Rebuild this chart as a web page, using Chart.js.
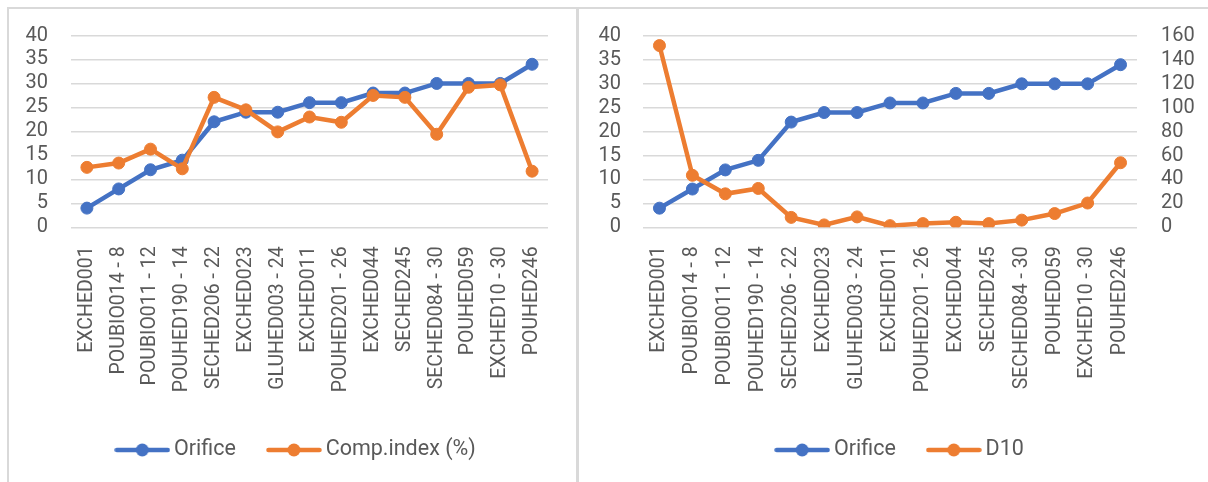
<!DOCTYPE html>
<html>
<head>
<meta charset="utf-8">
<title>Orifice vs Comp.index / D10</title>
<script src="https://cdn.jsdelivr.net/npm/chart.js@4.4.1/dist/chart.umd.min.js"></script>
<style>
    html, body { margin: 0; padding: 0; background: #fff; overflow: hidden; }
    body { position: relative; width: 1208px; height: 482px; }
    canvas { position: absolute; top: 0; }
    #leftChart { left: 0; }
    #rightChart { left: 578px; }
    .rule { position: absolute; background: #d9d9d9; }
</style>
</head>
<body>
<canvas id="leftChart" width="577" height="482"></canvas>
<canvas id="rightChart" width="642" height="482"></canvas>
<div class="rule" style="left:7px; top:7px; width:1201px; height:2px;"></div>
<div class="rule" style="left:7px; top:7px; width:2px; height:475px;"></div>
<div class="rule" style="left:576px; top:7px; width:3px; height:475px;"></div>
<script>
// -------- DATA --------
const categories = [
    "EXCHED001", "POUBIO014 - 8", "POUBIO011 - 12", "POUHED190 - 14",
    "SECHED206 - 22", "EXCHED023", "GLUHED003 - 24", "EXCHED011",
    "POUHED201 - 26", "EXCHED044", "SECHED245", "SECHED084 - 30",
    "POUHED059", "EXCHED10 - 30", "POUHED246"
];
const orifice = [4, 8, 12, 14, 22, 24, 24, 26, 26, 28, 28, 30, 30, 30, 34];
const compIndex = [12.5, 13.4, 16.3, 12.2, 27.1, 24.5, 19.9, 23, 21.9, 27.5, 27.1, 19.4, 29.2, 29.7, 11.7];
const d10 = [152, 43.5, 28, 32.5, 8.3, 2, 8.7, 1.4, 3.1, 4.2, 3.1, 6, 11.5, 20.3, 54];

const leftAxisMax = 40, leftAxisStep = 5;
const rightAxisMax = 160, rightAxisStep = 20;

// -------- STYLE --------
const BLUE = "#4472C4";
const ORANGE = "#ED7D31";
const TEXT = "#595959";
const GRID = "#d9d9d9";
const LEGEND_FONT = 21.5;
const LEGEND_PAD = 37;
const LEGEND_BOX = 42;

Chart.defaults.font.family = "Roboto, 'Open Sans', sans-serif";
Chart.defaults.color = TEXT;

// line with a dot in the middle, used as legend marker
function legendIcon(color) {
    const c = document.createElement("canvas");
    c.width = 56;
    c.height = 16;
    const g = c.getContext("2d");
    g.strokeStyle = color;
    g.lineWidth = 4.5;
    g.lineCap = "round";
    g.beginPath();
    g.moveTo(2.5, 8);
    g.lineTo(53.5, 8);
    g.stroke();
    g.fillStyle = color;
    g.beginPath();
    g.arc(28, 8, 6.5, 0, Math.PI * 2);
    g.fill();
    return c;
}
const icons = { [BLUE]: legendIcon(BLUE), [ORANGE]: legendIcon(ORANGE) };

// nudges the legend row sideways after layout
const legendShift = {
    id: "legendShift",
    afterLayout(chart, args, opts) {
        if (!opts.dx) return;
        chart.legend.left += opts.dx;
        chart.legend.right += opts.dx;
    }
};

function series(label, data, color, order, axis) {
    return {
        label,
        data,
        yAxisID: axis,
        order,
        borderColor: color,
        backgroundColor: color,
        borderWidth: 4.5,
        pointRadius: 6,
        pointBorderWidth: 1,
        pointBackgroundColor: color,
        pointBorderColor: color,
        tension: 0,
        fill: false
    };
}

function xAxis(height) {
    return {
        type: "category",
        offset: true,
        grid: { display: false, drawTicks: false },
        border: { display: false },
        ticks: {
            autoSkip: false,
            minRotation: 90,
            maxRotation: 90,
            padding: 19,
            font: { size: 19.5 },
            color: TEXT
        },
        afterFit: s => { s.height = height; }
    };
}

function valueAxis(pos, max, step, width, pad, grid) {
    return {
        position: pos,
        min: 0,
        max,
        grid: { display: grid, color: GRID, lineWidth: 1.5, drawTicks: false },
        border: { display: false },
        ticks: { stepSize: step, autoSkip: false, padding: pad, font: { size: 20 }, color: TEXT },
        afterFit: s => { s.width = width; }
    };
}

const legendOpts = {
    position: "bottom",
    labels: {
        usePointStyle: true,
        pointStyleWidth: LEGEND_BOX,
        padding: LEGEND_PAD,
        font: { size: LEGEND_FONT },
        color: TEXT,
        generateLabels: chart => chart.data.datasets.map((ds, i) => ({
            text: ds.label,
            datasetIndex: i,
            pointStyle: icons[ds.borderColor],
            fillStyle: ds.borderColor,
            strokeStyle: ds.borderColor,
            lineWidth: 0,
            hidden: false,
            fontColor: TEXT
        }))
    }
};

// plot area spans y 35.5 .. 227.3 on both panels
const PAD_TOP = 35.5;
const PAD_BOTTOM = 11.25;
const LEGEND_H = LEGEND_FONT + LEGEND_PAD + 10;
const X_AXIS_H = 482 - PAD_BOTTOM - LEGEND_H - 227.3;

// -------- LEFT: Orifice + Comp.index --------
new Chart(document.getElementById("leftChart"), {
    type: "line",
    data: {
        labels: categories,
        datasets: [
            series("Orifice", orifice, BLUE, 1, "y"),
            series("Comp.index (%)", compIndex, ORANGE, 0, "y")
        ]
    },
    options: {
        responsive: false,
        animation: false,
        devicePixelRatio: 1,
        layout: { padding: { left: 0, right: 29, top: PAD_TOP, bottom: PAD_BOTTOM } },
        plugins: { legend: legendOpts, legendShift: { dx: 24.5 }, tooltip: { enabled: false } },
        scales: {
            x: xAxis(X_AXIS_H),
            y: valueAxis("left", leftAxisMax, leftAxisStep, 71, 23, true)
        }
    },
    plugins: [legendShift]
});

// -------- RIGHT: Orifice + D10 (secondary axis) --------
new Chart(document.getElementById("rightChart"), {
    type: "line",
    data: {
        labels: categories,
        datasets: [
            series("Orifice", orifice, BLUE, 1, "y"),
            series("D10", d10, ORANGE, 0, "y2")
        ]
    },
    options: {
        responsive: false,
        animation: false,
        devicePixelRatio: 1,
        layout: { padding: { left: 7, right: 0, top: PAD_TOP, bottom: PAD_BOTTOM } },
        plugins: { legend: legendOpts, legendShift: { dx: 0 }, tooltip: { enabled: false } },
        scales: {
            x: xAxis(X_AXIS_H),
            y: valueAxis("left", leftAxisMax, leftAxisStep, 58, 22, true),
            y2: valueAxis("right", rightAxisMax, rightAxisStep, 83, 24, false)
        }
    },
    plugins: [legendShift]
});
</script>
</body>
</html>
